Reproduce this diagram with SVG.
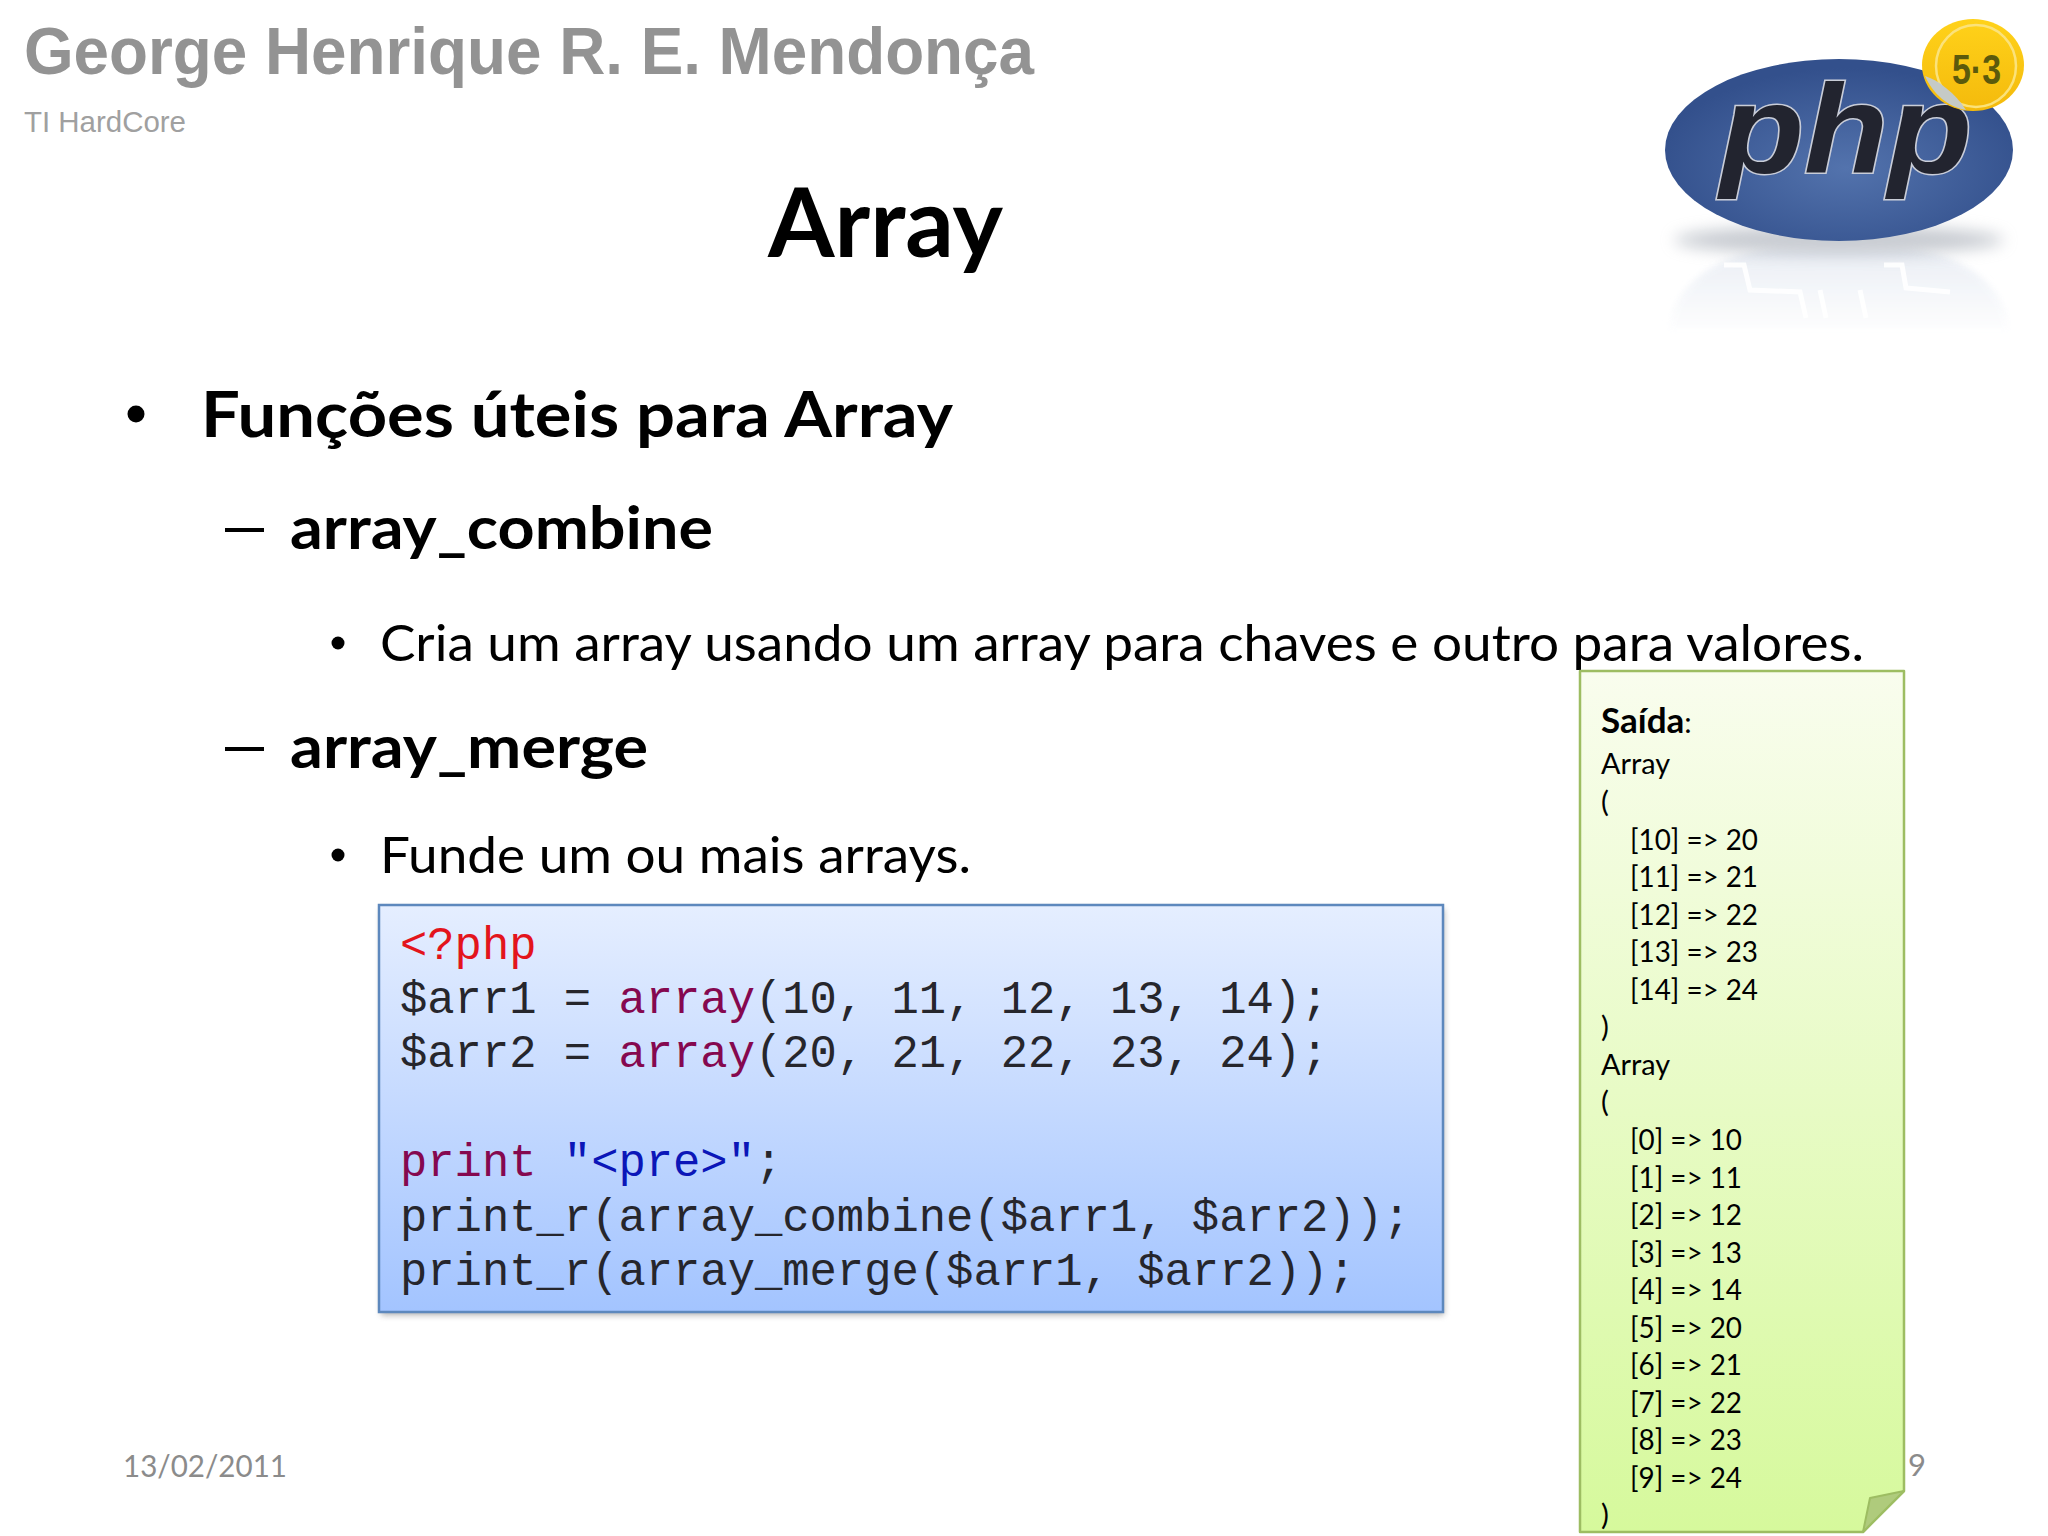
<svg xmlns="http://www.w3.org/2000/svg" width="2048" height="1536" viewBox="0 0 2048 1536">
<style>
text{white-space:pre}
.c{font-family:"Lato","Noto Sans",sans-serif;fill:#000}
.b{font-weight:700}
.h1{font-size:63px}
.h2{font-size:60px}
.h3{font-size:51px}
.n{font-size:29.5px}
.f{font-size:31px;fill:#8b8b8b}
.m{font-family:"Liberation Mono","DejaVu Sans Mono",monospace;font-size:45.5px;fill:#26262c}
.kw{fill:#85084f}.str{fill:#0b16b8}.tag{fill:#e3141c}
</style>
<defs>
<linearGradient id="codeFill" x1="0" y1="0" x2="0" y2="1"><stop offset="0" stop-color="#e5eeff"/><stop offset="1" stop-color="#a3c4ff"/></linearGradient>
<linearGradient id="noteFill" x1="0" y1="0" x2="0" y2="1"><stop offset="0" stop-color="#f9fdee"/><stop offset="1" stop-color="#d6f99c"/></linearGradient>
<radialGradient id="phpFill" cx="0.52" cy="0.6" r="0.55"><stop offset="0" stop-color="#5373ad"/><stop offset="1" stop-color="#33508c"/></radialGradient>
<linearGradient id="badgeFill" x1="0" y1="0" x2="0" y2="1"><stop offset="0" stop-color="#ffd21a"/><stop offset="1" stop-color="#f4ba0c"/></linearGradient>
<linearGradient id="reflFill" x1="0" y1="0" x2="0" y2="1"><stop offset="0" stop-color="#e6ebf3"/><stop offset="1" stop-color="#ffffff"/></linearGradient>
<filter id="soft" x="-20%" y="-60%" width="140%" height="220%"><feGaussianBlur stdDeviation="8"/></filter>
<filter id="soft2" x="-20%" y="-20%" width="140%" height="140%"><feGaussianBlur stdDeviation="3"/></filter>
</defs>
<rect width="2048" height="1536" fill="#fff"/>

<g id="header">
<text x="24" y="74" font-family="Liberation Sans" font-weight="700" font-size="66" fill="#939393" textLength="1010" lengthAdjust="spacingAndGlyphs">George Henrique R. E. Mendonça</text>
<text x="24" y="132" font-family="Liberation Sans" font-size="29" fill="#a0a0a0" textLength="162" lengthAdjust="spacingAndGlyphs">TI HardCore</text>
</g>

<g id="php-logo">
<path d="M1668 335 C1670 285 1720 250 1780 250 L1900 250 C1960 250 2008 285 2010 335 Z" fill="url(#reflFill)" opacity=".8" filter="url(#soft2)"/>
<ellipse cx="1839" cy="240" rx="165" ry="14" fill="#8f96a3" opacity=".5" filter="url(#soft)"/>
<path d="M1724 265 L1744 265 L1750 290 L1800 292 L1806 318 M1884 265 L1902 265 L1906 288 L1950 292 M1820 290 L1826 318 M1860 290 L1866 318" fill="none" stroke="#ffffff" stroke-width="5" opacity=".9"/>
<ellipse cx="1839" cy="150" rx="174" ry="91" fill="url(#phpFill)"/>
<text x="1720" y="173" font-family="Liberation Sans" font-weight="700" font-style="italic" font-size="127" fill="#22242f" stroke="#c9cdd8" stroke-width="3" paint-order="stroke" textLength="252" lengthAdjust="spacingAndGlyphs">php</text>
<ellipse cx="1973" cy="65" rx="51" ry="46" fill="url(#badgeFill)"/>
<ellipse cx="1976" cy="66" rx="40" ry="41" fill="none" stroke="#fbe27a" stroke-width="2.5"/>
<path d="M1925 76 C1938 80 1955 93 1966 110 C1948 107 1933 94 1925 76 Z" fill="#c5cac6"/>
<text x="1952" y="84" font-family="Liberation Sans" font-weight="700" font-size="43" fill="#5b5a0c" textLength="49" lengthAdjust="spacingAndGlyphs">5·3</text>
</g>

<g id="title"><text class="c b" x="768" y="257" font-size="95" textLength="235" lengthAdjust="spacingAndGlyphs">Array</text></g>

<g id="bullets">
<circle cx="136" cy="414" r="8.5"/>
<text class="c b h1" x="201" y="437" textLength="752" lengthAdjust="spacingAndGlyphs">Funções úteis para Array</text>
<rect x="225" y="528" width="39" height="4"/>
<text class="c b h2" x="290" y="549" textLength="423" lengthAdjust="spacingAndGlyphs">array_combine</text>
<circle cx="338" cy="643" r="6.5"/>
<text class="c h3" x="380" y="661" textLength="1484" lengthAdjust="spacingAndGlyphs">Cria um array usando um array para chaves e outro para valores.</text>
<rect x="225" y="747" width="39" height="4"/>
<text class="c b h2" x="290" y="768" textLength="358" lengthAdjust="spacingAndGlyphs">array_merge</text>
<circle cx="338" cy="855" r="6.5"/>
<text class="c h3" x="380" y="873" textLength="591" lengthAdjust="spacingAndGlyphs">Funde um ou mais arrays.</text>
</g>

<g id="code-box">
<rect x="381" y="909" width="1063" height="406" fill="#6d6d6d" opacity=".55" filter="url(#soft2)"/>
<rect x="379" y="905" width="1064" height="407" fill="url(#codeFill)" stroke="#5d88bd" stroke-width="2.5"/>
<text class="m tag" x="400" y="959">&lt;?php</text>
<text class="m" x="400" y="1013">$arr1 = <tspan class="kw">array</tspan>(10, 11, 12, 13, 14);</text>
<text class="m" x="400" y="1067">$arr2 = <tspan class="kw">array</tspan>(20, 21, 22, 23, 24);</text>
<text class="m" x="400" y="1176"><tspan class="kw">print</tspan> <tspan class="str">"&lt;pre&gt;"</tspan>;</text>
<text class="m" x="400" y="1231">print_r(array_combine($arr1, $arr2));</text>
<text class="m" x="400" y="1285">print_r(array_merge($arr1, $arr2));</text>
</g>

<g id="footer">
<text class="c f" x="123" y="1477" textLength="164" lengthAdjust="spacingAndGlyphs">13/02/2011</text>
<text class="c f" x="1908" y="1476">9</text>
</g>

<g id="output-note">
<path d="M1580 671 H1904 V1491 L1863 1532 H1580 Z" fill="url(#noteFill)" stroke="#9dbd62" stroke-width="2.5" stroke-linejoin="round"/>
<path d="M1904 1491 L1870 1498 L1863 1532 Z" fill="#afcb7c" stroke="#9dbd62" stroke-width="2" stroke-linejoin="round"/>
<text class="c n" x="1601" y="733"><tspan class="b" font-size="35">Saída</tspan>:</text>
<text class="c n" x="1601" y="774" textLength="69" lengthAdjust="spacingAndGlyphs">Array</text>
<text class="c n" x="1601" y="812">(</text>
<text class="c n" x="1630" y="849.5" textLength="128" lengthAdjust="spacingAndGlyphs">[10] =&gt; 20</text>
<text class="c n" x="1630" y="887" textLength="128" lengthAdjust="spacingAndGlyphs">[11] =&gt; 21</text>
<text class="c n" x="1630" y="924.5" textLength="128" lengthAdjust="spacingAndGlyphs">[12] =&gt; 22</text>
<text class="c n" x="1630" y="962" textLength="128" lengthAdjust="spacingAndGlyphs">[13] =&gt; 23</text>
<text class="c n" x="1630" y="999.5" textLength="128" lengthAdjust="spacingAndGlyphs">[14] =&gt; 24</text>
<text class="c n" x="1601" y="1037">)</text>
<text class="c n" x="1601" y="1074.5" textLength="69" lengthAdjust="spacingAndGlyphs">Array</text>
<text class="c n" x="1601" y="1112">(</text>
<text class="c n" x="1630" y="1150" textLength="112" lengthAdjust="spacingAndGlyphs">[0] =&gt; 10</text>
<text class="c n" x="1630" y="1187.5" textLength="112" lengthAdjust="spacingAndGlyphs">[1] =&gt; 11</text>
<text class="c n" x="1630" y="1225" textLength="112" lengthAdjust="spacingAndGlyphs">[2] =&gt; 12</text>
<text class="c n" x="1630" y="1262.5" textLength="112" lengthAdjust="spacingAndGlyphs">[3] =&gt; 13</text>
<text class="c n" x="1630" y="1300" textLength="112" lengthAdjust="spacingAndGlyphs">[4] =&gt; 14</text>
<text class="c n" x="1630" y="1337.5" textLength="112" lengthAdjust="spacingAndGlyphs">[5] =&gt; 20</text>
<text class="c n" x="1630" y="1375" textLength="112" lengthAdjust="spacingAndGlyphs">[6] =&gt; 21</text>
<text class="c n" x="1630" y="1412.5" textLength="112" lengthAdjust="spacingAndGlyphs">[7] =&gt; 22</text>
<text class="c n" x="1630" y="1450" textLength="112" lengthAdjust="spacingAndGlyphs">[8] =&gt; 23</text>
<text class="c n" x="1630" y="1487.5" textLength="112" lengthAdjust="spacingAndGlyphs">[9] =&gt; 24</text>
<text class="c n" x="1601" y="1525">)</text>
</g>
</svg>
